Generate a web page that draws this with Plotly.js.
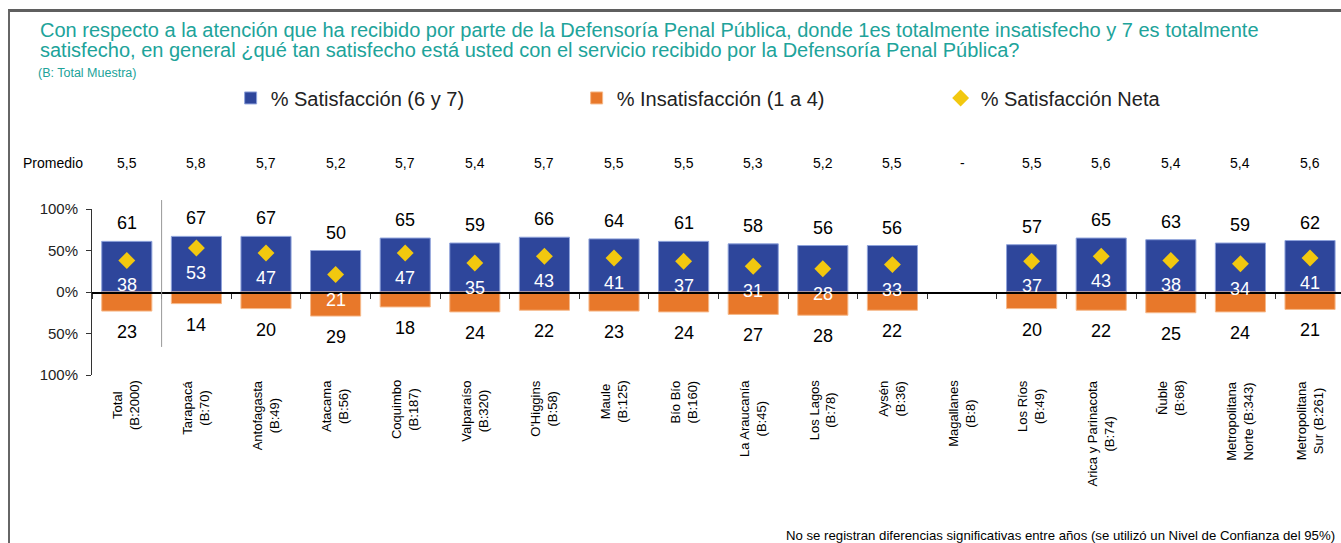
<!DOCTYPE html>
<html>
<head>
<meta charset="utf-8">
<script src="https://cdn.plot.ly/plotly-3.0.1.min.js"></script>
<style>
html,body{margin:0;padding:0;background:#fff;overflow:hidden;}
#wrap{position:relative;width:1341px;height:543px;overflow:hidden;}
#chart{width:1341px;height:543px;}
#frame{position:absolute;left:8px;top:9px;width:1400px;height:600px;border-top:3px solid #5f5f5f;border-left:2px solid #666;pointer-events:none;z-index:10;}
</style>
</head>
<body>
<div id="wrap">
<div id="chart"></div>
<div id="frame"></div>
</div>
<script>
// ---- Data ----
const regions = ["Total", "Tarapacá", "Antofagasta", "Atacama", "Coquimbo", "Valparaíso", "O'Higgins", "Maule", "Bío Bío", "La Araucanía", "Los Lagos", "Aysén", "Magallanes", "Los Ríos", "Arica y Parinacota", "Ñuble", "Metropolitana Norte", "Metropolitana Sur"];
const tickLabels = ["Total<br>(B:2000)", "Tarapacá<br>(B:70)", "Antofagasta<br>(B:49)", "Atacama<br>(B:56)", "Coquimbo<br>(B:187)", "Valparaíso<br>(B:320)", "O'Higgins<br>(B:58)", "Maule<br>(B:125)", "Bío Bío<br>(B:160)", "La Araucanía<br>(B:45)", "Los Lagos<br>(B:78)", "Aysén<br>(B:36)", "Magallanes<br>(B:8)", "Los Ríos<br>(B:49)", "Arica y Parinacota<br>(B:74)", "Ñuble<br>(B:68)", "Metropolitana<br>Norte (B:343)", "Metropolitana<br>Sur (B:261)"];
const satisfaccion = [61, 67, 67, 50, 65, 59, 66, 64, 61, 58, 56, 56, null, 57, 65, 63, 59, 62];
const insatisfaccion = [23, 14, 20, 29, 18, 24, 22, 23, 24, 27, 28, 22, null, 20, 22, 25, 24, 21];
const satisfaccionNeta = [38, 53, 47, 21, 47, 35, 43, 41, 37, 31, 28, 33, null, 37, 43, 38, 34, 41];
const promedio = ["5,5", "5,8", "5,7", "5,2", "5,7", "5,4", "5,7", "5,5", "5,5", "5,3", "5,2", "5,5", "-", "5,5", "5,6", "5,4", "5,4", "5,6"];
const yTickVals = [-100, -50, 0, 50, 100];
const yTickText = ["100%", "50%", "0%", "50%", "100%"];
const titleLine1 = "Con respecto a la atención que ha recibido por parte de la Defensoría Penal Pública, donde 1es totalmente insatisfecho y 7 es totalmente";
const titleLine2 = "satisfecho, en general ¿qué tan satisfecho está usted con el servicio recibido por la Defensoría Penal Pública?";

const FONT = "Arial, 'Liberation Sans', sans-serif";
const BLUE = "#2E469B", ORANGE = "#E8782A", YELLOW = "#F2C80F", TEAL = "#20A39A";

const traces = [
  {type: "bar", name: "% Satisfacción (6 y 7)", x: regions, y: satisfaccion, width: 0.72,
   marker: {color: BLUE, line: {color: "#8FA3DB", width: 1}}, hoverinfo: "skip", legendwidth: 301},
  {type: "bar", name: "% Insatisfacción (1 a 4)", x: regions, y: insatisfaccion.map(v => v == null ? null : -v), width: 0.72,
   marker: {color: ORANGE, line: {color: "#F6B98A", width: 1}}, hoverinfo: "skip", legendwidth: 319},
  {type: "scatter", mode: "markers", name: "% Satisfacción Neta", x: regions, y: satisfaccionNeta,
   marker: {symbol: "diamond", size: 13, color: YELLOW}, hoverinfo: "skip"}
];

const ann = [];
regions.forEach((r, i) => {
  if (satisfaccion[i] != null) {
    ann.push({x: r, y: satisfaccion[i], xref: "x", yref: "y", text: String(satisfaccion[i]), showarrow: false,
      yanchor: "bottom", yshift: 6, font: {size: 18, color: "#000", family: FONT}});
    ann.push({x: r, y: -insatisfaccion[i], xref: "x", yref: "y", text: String(insatisfaccion[i]), showarrow: false,
      yanchor: "top", yshift: -9, font: {size: 18, color: "#000", family: FONT}});
    ann.push({x: r, y: satisfaccionNeta[i], xref: "x", yref: "y", text: String(satisfaccionNeta[i]), showarrow: false,
      yanchor: "middle", yshift: -25, font: {size: 18, color: "#fff", family: FONT}});
  }
  ann.push({x: r, y: 1.277, xref: "x", yref: "paper", text: promedio[i], showarrow: false,
    yanchor: "middle", font: {size: 14, color: "#000", family: FONT}});
  ann.push({x: r, y: -0.02, xref: "x", yref: "paper", text: tickLabels[i], showarrow: false, textangle: -90,
    yanchor: "top", xanchor: "center", align: "center", font: {size: 13, color: "#000", family: FONT}});
});
ann.push({x: -0.031, y: 1.277, xref: "paper", yref: "paper", text: "Promedio", showarrow: false,
  yanchor: "middle", xanchor: "center", font: {size: 14, color: "#000", family: FONT}});
ann.push({x: -0.0432, y: (375 - 50) / 166, xref: "paper", yref: "paper", text: titleLine2, showarrow: false,
  xanchor: "left", yanchor: "middle", font: {size: 20, color: TEAL, family: FONT}});
ann.push({x: -0.0448, y: (375 - 73) / 166, xref: "paper", yref: "paper", text: "(B: Total Muestra)", showarrow: false,
  xanchor: "left", yanchor: "middle", font: {size: 12.5, color: TEAL, family: FONT}});
ann.push({x: 0.9968, y: -0.964, xref: "paper", yref: "paper",
  text: "No se registran diferencias significativas entre años (se utilizó un Nivel de Confianza del 95%)", showarrow: false,
  xanchor: "right", yanchor: "middle", font: {size: 13.2, color: "#000", family: FONT}});

const layout = {
  width: 1341, height: 543, autosize: false,
  paper_bgcolor: "#fff", plot_bgcolor: "rgba(0,0,0,0)",
  margin: {l: 92, r: 0, t: 209, b: 168, pad: 0},
  font: {family: FONT, color: "#000"},
  title: {
    text: titleLine1,
    x: 40 / 1341, xanchor: "left", xref: "container", y: 1 - 30 / 543, yanchor: "middle", yref: "container",
    font: {size: 20, color: TEAL, family: FONT}
  },
  barmode: "relative",
  showlegend: true,
  legend: {orientation: "h", x: 0.111, xanchor: "left", y: 1.669, yanchor: "middle", traceorder: "normal",
    font: {size: 20, color: "#222", family: FONT}, bgcolor: "rgba(0,0,0,0)"},
  xaxis: {type: "category", categoryorder: "array", categoryarray: regions, range: [-0.5, 17.445],
    anchor: "free", position: 0.5, showline: true, linecolor: "#000", linewidth: 1.5,
    ticks: "outside", tickson: "boundaries", ticklen: 5, tickcolor: "#333", tickwidth: 1,
    showticklabels: false, showgrid: false, zeroline: false, fixedrange: true},
  yaxis: {range: [-100, 100], tickvals: yTickVals, ticktext: yTickText, showline: true, linecolor: "#333", linewidth: 1,
    ticks: "outside", ticklen: 5, tickcolor: "#333", ticklabelstandoff: 5,
    tickfont: {size: 15, color: "#222", family: FONT}, showgrid: false, zeroline: false, fixedrange: true},
  annotations: ann,
  shapes: [
    {type: "line", xref: "x", yref: "paper", x0: 0.5, x1: 0.5, y0: 0.169, y1: 1.054, line: {color: "#999", width: 1}}
  ]
};

Plotly.newPlot("chart", traces, layout, {displayModeBar: false, staticPlot: true});
</script>
</body>
</html>
